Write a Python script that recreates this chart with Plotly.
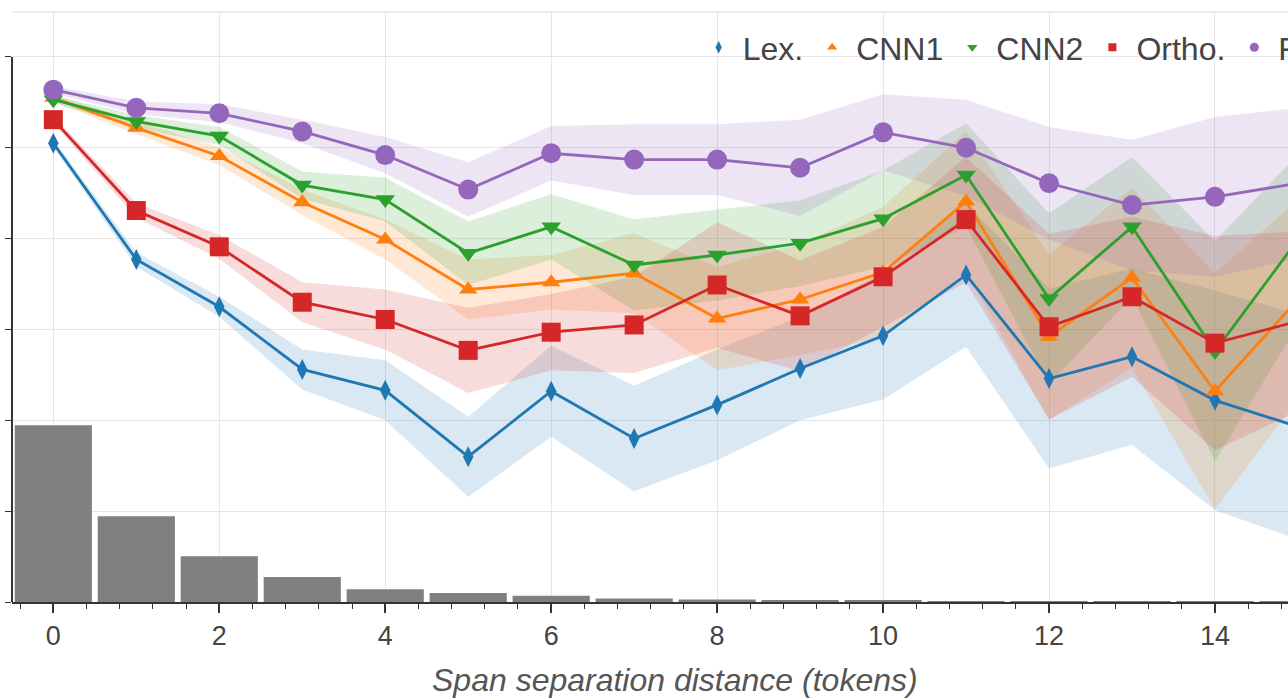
import plotly.graph_objects as go

# ---------------- data ----------------
distance = list(range(16))

lex = [0.905, 0.777, 0.725, 0.656, 0.633, 0.560, 0.632, 0.580, 0.617, 0.657,
       0.693, 0.760, 0.646, 0.670, 0.622, 0.593]
cnn1 = [0.955, 0.922, 0.891, 0.840, 0.799, 0.744, 0.752, 0.762, 0.712, 0.733,
        0.763, 0.841, 0.692, 0.757, 0.632, 0.733]
cnn2 = [0.953, 0.929, 0.913, 0.859, 0.843, 0.784, 0.813, 0.771, 0.782, 0.795,
        0.822, 0.870, 0.734, 0.813, 0.676, 0.799]
ortho = [0.931, 0.831, 0.791, 0.730, 0.711, 0.677, 0.697, 0.705, 0.749, 0.715,
         0.758, 0.821, 0.703, 0.736, 0.685, 0.709]
full = [0.964, 0.944, 0.938, 0.918, 0.892, 0.854, 0.894, 0.887, 0.887, 0.878,
        0.917, 0.900, 0.861, 0.837, 0.846, 0.861]

lex_err = [0.004, 0.008, 0.011, 0.022, 0.033, 0.044, 0.050, 0.058, 0.061, 0.057,
           0.070, 0.079, 0.099, 0.097, 0.121, 0.124]
cnn1_err = [0.004, 0.007, 0.010, 0.014, 0.022, 0.033, 0.030, 0.044, 0.057, 0.061,
            0.072, 0.077, 0.091, 0.099, 0.130, 0.110]
cnn2_err = [0.004, 0.007, 0.010, 0.015, 0.024, 0.035, 0.036, 0.050, 0.050, 0.047,
            0.053, 0.057, 0.094, 0.077, 0.121, 0.094]
ortho_err = [0.004, 0.008, 0.013, 0.022, 0.033, 0.047, 0.042, 0.053, 0.069, 0.061,
             0.055, 0.069, 0.102, 0.088, 0.118, 0.099]
full_err = [0.004, 0.007, 0.010, 0.013, 0.020, 0.030, 0.030, 0.039, 0.039, 0.053,
            0.042, 0.053, 0.062, 0.072, 0.088, 0.083]

target_counts = [3534, 1714, 914, 500, 254, 180, 126, 72, 48, 34, 26, 20, 16, 14, 12, 10]

series_names = ["Lex.", "CNN1", "CNN2", "Ortho.", "Full"]
series_vals = [lex, cnn1, cnn2, ortho, full]
series_errs = [lex_err, cnn1_err, cnn2_err, ortho_err, full_err]

x_ticks = [0, 2, 4, 6, 8, 10, 12, 14]
x_title = "Span separation distance (tokens)"

# ---------------- styles ----------------
colors = ["#1f77b4", "#ff7f0e", "#2ca02c", "#d62728", "#9467bd"]
symbols = ["diamond-tall", "triangle-up", "triangle-down", "square", "circle"]
sizes = [15, 16, 17, 19, 20]
legend_sizes = [9, 9, 9, 8, 9]


def rgba(hex_color, a):
    h = hex_color.lstrip("#")
    r, g, b = int(h[0:2], 16), int(h[2:4], 16), int(h[4:6], 16)
    return f"rgba({r},{g},{b},{a})"


fig = go.Figure()

# histogram of targets (secondary axis)
fig.add_trace(go.Bar(
    x=distance, y=target_counts, yaxis="y2", width=0.93,
    marker=dict(color="#808080", line=dict(width=0)),
    showlegend=False, hoverinfo="skip"))

# confidence bands
for name, vals, errs, col in zip(series_names, series_vals, series_errs, colors):
    upper = [v + e for v, e in zip(vals, errs)]
    lower = [v - e for v, e in zip(vals, errs)]
    fig.add_trace(go.Scatter(
        x=distance + distance[::-1], y=upper + lower[::-1],
        fill="toself", fillcolor=rgba(col, 0.17), line=dict(width=0),
        mode="lines", showlegend=False, hoverinfo="skip"))

# lines + markers
for name, vals, col, sym, sz in zip(series_names, series_vals, colors, symbols, sizes):
    fig.add_trace(go.Scatter(
        x=distance, y=vals, mode="lines+markers", name=name,
        line=dict(color=col, width=2.8),
        marker=dict(color=col, symbol=sym, size=sz, line=dict(width=0)),
        showlegend=False))

# legend-only entries with small symbols
for name, col, sym, sz in zip(series_names, colors, symbols, legend_sizes):
    fig.add_trace(go.Scatter(
        x=[None], y=[None], mode="markers", name=name,
        marker=dict(color=col, symbol=sym, size=sz, line=dict(width=0)),
        showlegend=True))

font_family = "Liberation Sans, Arial, Helvetica, sans-serif"

fig.update_layout(
    width=1288, height=700,
    margin=dict(l=12, r=0, t=12, b=98, autoexpand=False),
    paper_bgcolor="white", plot_bgcolor="white",
    font=dict(family=font_family, color="#444"),
    showlegend=True,
    legend=dict(orientation="h", x=0.535, y=0.94, xanchor="left", yanchor="middle",
                bgcolor="rgba(255,255,255,0)", font=dict(size=32, color="#444"),
                itemsizing="trace", itemwidth=38, traceorder="normal"),
    xaxis=dict(range=[-0.498, 14.88], tickvals=x_ticks, ticks="outside", ticklen=9,
               tickwidth=1.5, tickcolor="#333", showline=True, linecolor="#333",
               linewidth=2, showgrid=True, gridcolor="#e6e6e6", gridwidth=1,
               zeroline=False, tickfont=dict(size=27, color="#444"),
               minor=dict(tickvals=[i * 0.4 for i in range(-1, 38)], ticks="outside",
                          ticklen=5, tickwidth=1.2, tickcolor="#333", showgrid=False)),
    yaxis=dict(range=[0.4, 1.0495], tick0=0.4, dtick=0.1, ticks="outside", ticklen=6,
               tickcolor="#333", showticklabels=False, showline=False,
               showgrid=True, gridcolor="#e6e6e6", gridwidth=1, zeroline=False),
    yaxis2=dict(range=[0, 11800], overlaying="y", side="right", visible=False,
                showgrid=False, zeroline=False),
    shapes=[
        dict(type="line", xref="paper", yref="y", x0=0, x1=0, y0=0.4, y1=1.0,
             line=dict(color="#333", width=2)),
        dict(type="line", xref="paper", yref="paper", x0=0, x1=1, y0=1, y1=1,
             line=dict(color="#e6e6e6", width=1.5)),
    ],
    annotations=[
        dict(text="<i>" + x_title + "</i>", xref="paper", yref="paper",
             x=0.5196, y=-0.1322, xanchor="center", yanchor="middle",
             showarrow=False, font=dict(size=32, color="#555")),
    ],
)

fig.write_html("out.html")
